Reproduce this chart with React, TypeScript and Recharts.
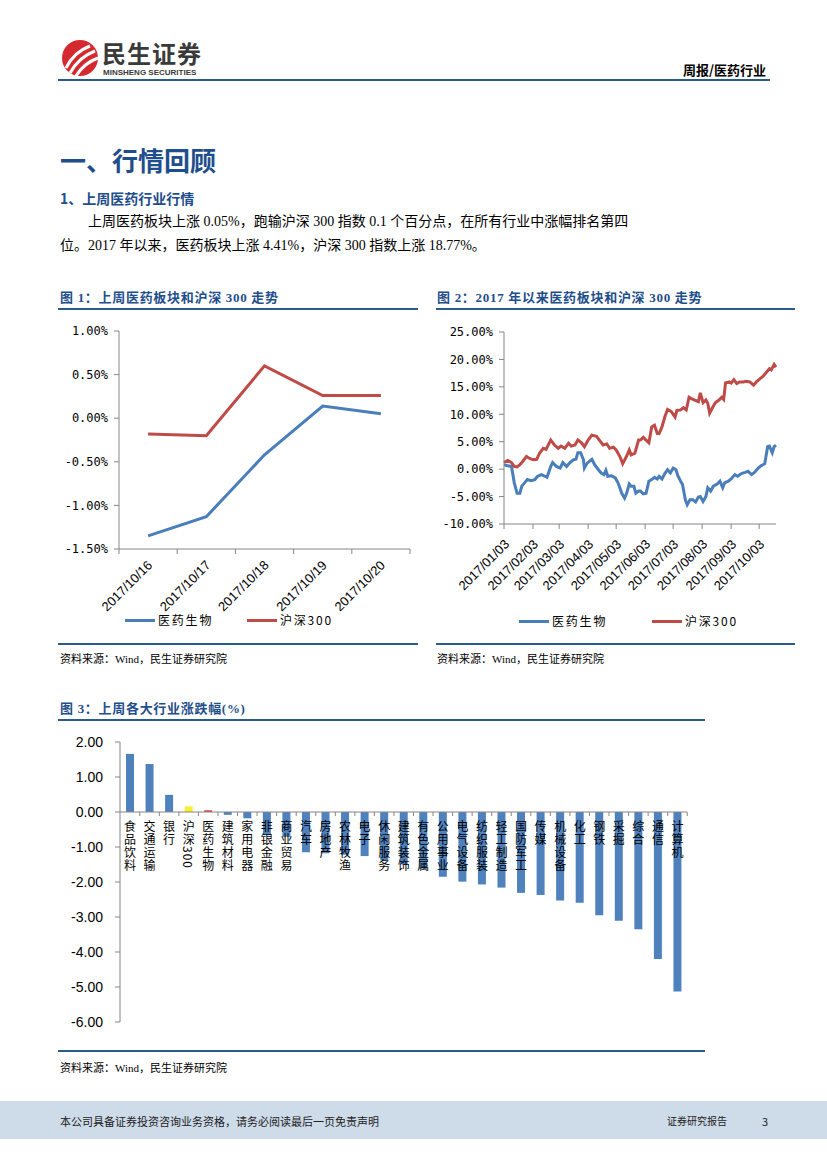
import React from "react";
import {
  LineChart, Line, BarChart, Bar, Cell, XAxis, YAxis, LabelList, ReferenceLine,
} from "recharts";

const BLUE = "#4a7ebb";
const RED = "#be4b48";
const BAR_BLUE = "#4f81bd";
const AXIS = "#868686";
const TITLE = "#1f4e8c";
const RULE = "#2b5b8c";
const CJK = '"Noto Sans CJK SC", sans-serif';
const SERIF = '"Liberation Serif", "Noto Sans CJK SC", serif';
const MONO = '"DejaVu Sans Mono", monospace';
const ARIAL = '"Liberation Sans", Arial, sans-serif';

// 图1 上周医药板块和沪深300走势
const weekDates = ["2017/10/16", "2017/10/17", "2017/10/18", "2017/10/19", "2017/10/20"];
const weekMedicine = [-1.35, -1.13, -0.42, 0.14, 0.05];
const weekHs300 = [-0.18, -0.2, 0.6, 0.26, 0.26];
const weekYTicks = [-1.5, -1, -0.5, 0, 0.5, 1];

// 图2 2017年以来 : [days since 2017/01/03, %]
const ytdMedicine: [number, number][] = [
  [0, 0.8], [4, 0.6], [8, 0.5], [11, -2.5], [14, -4.4], [17, -4.4], [19, -3.1], [22, -2.5],
  [25, -1.9], [29, -2.1], [33, -1.9], [36, -1.3], [40, -1.0], [44, -1.3], [46, -1.5], [50, 0.5],
  [52, 1.2], [56, 0.5], [60, 0.2], [63, 1.2], [67, 0.5], [70, 1.1], [74, 1.7], [77, 1.8],
  [79, 3.0], [82, 3.0], [85, 1.7], [86, 0.2], [89, 1.1], [94, 1.8], [97, 0.8], [101, -0.1],
  [104, -0.7], [107, -1.0], [109, -0.2], [111, -1.3], [115, -1.2], [119, -1.6], [122, -2.5],
  [126, -4.4], [129, -5.3], [131, -4.5], [134, -2.7], [136, -3.1], [139, -3.1], [141, -4.4],
  [144, -4.0], [146, -4.0], [149, -4.5], [152, -4.4], [155, -2.2], [158, -1.9], [161, -1.5],
  [164, -1.8], [166, -1.3], [169, -1.8], [172, -0.8], [175, -0.1], [178, -0.7], [181, 0.2],
  [184, -0.1], [186, -1.2], [189, -2.2], [191, -2.8], [194, -5.6], [196, -6.5], [199, -5.6],
  [202, -5.6], [205, -6.0], [208, -5.1], [210, -5.0], [213, -5.9], [216, -5.0], [218, -3.4],
  [221, -4.0], [224, -3.1], [228, -2.7], [231, -2.2], [234, -3.4], [236, -2.5], [240, -2.2],
  [243, -1.8], [247, -1.0], [250, -1.3], [254, -0.8], [258, -0.6], [261, -0.4], [265, -1.0],
  [268, -0.6], [272, 0.2], [275, 0.6], [279, 1.0], [282, 4.1], [284, 4.2], [287, 3.0],
  [289, 4.1], [291, 4.4],
];
const ytdHs300: [number, number][] = [
  [0, 1.2], [4, 1.6], [8, 1.2], [11, 0.5], [14, 0.4], [17, 0.8], [20, 1.4], [24, 2.3],
  [27, 2.0], [31, 1.7], [35, 1.8], [38, 2.9], [42, 3.8], [45, 3.6], [50, 5.3], [54, 4.4],
  [58, 3.8], [61, 4.2], [65, 3.8], [69, 4.7], [72, 4.2], [76, 4.4], [79, 5.3], [83, 4.8],
  [86, 4.1], [90, 5.3], [94, 6.2], [99, 6.0], [102, 5.3], [106, 4.4], [110, 4.6], [113, 3.8],
  [117, 4.0], [120, 3.5], [124, 2.3], [127, 1.0], [131, 2.3], [134, 3.5], [136, 2.6],
  [140, 2.9], [144, 5.3], [146, 5.3], [149, 5.8], [152, 5.3], [155, 4.8], [158, 7.7],
  [161, 8.0], [164, 6.5], [166, 6.5], [169, 7.7], [172, 9.5], [175, 10.9], [179, 10.5],
  [183, 9.5], [185, 10.7], [189, 10.8], [192, 11.2], [195, 10.8], [198, 13.1], [200, 12.9],
  [204, 12.6], [208, 12.3], [210, 13.9], [213, 12.1], [216, 12.6], [218, 12.0], [220, 10.2],
  [223, 11.2], [226, 12.1], [230, 12.6], [233, 13.1], [235, 12.7], [237, 15.7], [241, 15.9],
  [243, 15.7], [246, 16.3], [249, 15.6], [252, 15.9], [256, 15.9], [259, 16.0], [263, 15.9],
  [267, 15.3], [270, 15.9], [274, 16.5], [277, 16.9], [281, 17.7], [284, 18.3], [286, 18.1],
  [289, 19.1], [291, 18.6],
];
const ytdTickDays = [0, 31, 59, 90, 120, 151, 181, 212, 243, 273];
const ytdTickLabels = [
  "2017/01/03", "2017/02/03", "2017/03/03", "2017/04/03", "2017/05/03",
  "2017/06/03", "2017/07/03", "2017/08/03", "2017/09/03", "2017/10/03",
];
const ytdYTicks = [-10, -5, 0, 5, 10, 15, 20, 25];

// 图3 上周各大行业涨跌幅
const industries = [
  "食品饮料", "交通运输", "银行", "沪深300", "医药生物", "建筑材料", "家用电器", "非银金融",
  "商业贸易", "汽车", "房地产", "农林牧渔", "电子", "休闲服务", "建筑装饰", "有色金属",
  "公用事业", "电气设备", "纺织服装", "轻工制造", "国防军工", "传媒", "机械设备", "化工",
  "钢铁", "采掘", "综合", "通信", "计算机",
];
const industryChange = [
  1.66, 1.37, 0.49, 0.16, 0.05, -0.08, -0.18, -0.66, -0.71, -1.15, -1.18, -1.22, -1.26,
  -1.38, -1.5, -1.62, -1.85, -1.99, -2.07, -2.16, -2.31, -2.37, -2.53, -2.59, -2.95,
  -3.11, -3.35, -4.2, -5.13,
];
const barYTicks = [-6, -5, -4, -3, -2, -1, 0, 1, 2];

const weekData = weekDates.map((date, i) => ({ date, med: weekMedicine[i], hs: weekHs300[i] }));
const ytdMedData = ytdMedicine.map(([day, v]) => ({ day, v }));
const ytdHsData = ytdHs300.map(([day, v]) => ({ day, v }));
const barData = industries.map((name, i) => ({ name, value: industryChange[i] }));

const BAR_W = 640, BAR_YAXIS = 62, BAR_RIGHT = 11;
const BAR_BAND = (BAR_W - BAR_YAXIS - BAR_RIGHT) / industries.length;
const WEEK_W = 360, WEEK_YAXIS = 61, WEEK_RIGHT = 8;
const WEEK_HALF = (WEEK_W - WEEK_YAXIS - WEEK_RIGHT) / weekDates.length / 2;

function SlantTick(props: any) {
  const { x, y, index, visibleTicksCount, label, half, dx, dy } = props;
  const ax = x + dx, ay = y + dy;
  return (
    <g>
      <line x1={x - half} y1={y} x2={x - half} y2={y + 5} stroke={AXIS} />
      {half > 0 && index === visibleTicksCount - 1 && (
        <line x1={x + half} y1={y} x2={x + half} y2={y + 5} stroke={AXIS} />
      )}
      <text x={ax} y={ay} transform={`rotate(-45 ${ax} ${ay})`} textAnchor="end"
        fontSize={13} fontFamily={ARIAL} fill="#000">{label}</text>
    </g>
  );
}

function IndustryLabel(props: any) {
  const vb = props.viewBox || props;
  const { x, y, width, height } = vb;
  const name = props.value;
  const v = industryChange[industries.indexOf(name)];
  const zeroY = v >= 0 ? Math.max(y, y + height) : Math.min(y, y + height);
  const cx = x + width / 2;
  return (
    <g>
      <line x1={cx + BAR_BAND / 2} x2={cx + BAR_BAND / 2} y1={zeroY} y2={zeroY + 4} stroke={AXIS} />
      <text x={cx} y={zeroY + 8} style={{ writingMode: "vertical-rl" }} fontFamily={CJK}
        fontSize={12} letterSpacing={1} fill="#000">{name}</text>
    </g>
  );
}

function LegendItem({ left, top, color, label }: { left: number; top: number; color: string; label: string }) {
  return (
    <div style={{ position: "absolute", left, top, display: "flex", alignItems: "center" }}>
      <div style={{ width: 30, height: 3, background: color }} />
      <span style={{ marginLeft: 3, fontSize: 12, letterSpacing: 1.8, fontFamily: CJK, lineHeight: "14px" }}>{label}</span>
    </div>
  );
}

const abs = (left: number, top: number, extra: React.CSSProperties = {}): React.CSSProperties => ({
  position: "absolute", left, top, whiteSpace: "nowrap", ...extra,
});

export default function App() {
  const yTick = { fontFamily: MONO, fontSize: 12, fill: "#000" };
  const figTitle: React.CSSProperties = { fontSize: 13, fontWeight: 700, color: TITLE, fontFamily: SERIF, lineHeight: "16px", letterSpacing: 0.7 };
  return (
    <div style={{ position: "absolute", left: 0, top: 0, width: 827, height: 1169, background: "#fff", overflow: "hidden", fontFamily: CJK, color: "#000" }}>
      {/* header */}
      <svg style={abs(60, 38)} width={42} height={42}>
        <circle cx={20} cy={20} r={18} fill="#d42a2f" />
        <path d="M6 30 Q14 14 30 8" stroke="#fff" strokeWidth={3} fill="none" />
        <path d="M10 35 Q19 19 35 13" stroke="#fff" strokeWidth={3} fill="none" />
        <path d="M16 38 Q24 25 38 20" stroke="#fff" strokeWidth={3} fill="none" />
      </svg>
      <div style={abs(102, 40, { fontSize: 24, fontWeight: 700, color: "#3a3a3a", lineHeight: "26px", letterSpacing: 1 })}>民生证券</div>
      <div style={abs(103, 68, { fontSize: 8, fontWeight: 700, fontFamily: ARIAL, color: "#3a3a3a", lineHeight: "9px" })}>MINSHENG SECURITIES</div>
      <div style={abs(683, 62, { fontSize: 13, fontWeight: 700, lineHeight: "16px" })}>周报/医药行业</div>
      <div style={abs(58, 79, { width: 712, height: 2, background: RULE })} />

      {/* section text */}
      <div style={abs(60, 145, { fontSize: 26, fontWeight: 700, color: TITLE, lineHeight: "30px" })}>一、行情回顾</div>
      <div style={abs(60, 190, { fontSize: 14, fontWeight: 700, color: TITLE, lineHeight: "16px" })}>1、上周医药行业行情</div>
      <div style={abs(88, 214, { fontSize: 14, fontFamily: SERIF, lineHeight: "16px" })}>
        上周医药板块上涨 0.05%，跑输沪深 300 指数 0.1 个百分点，在所有行业中涨幅排名第四
      </div>
      <div style={abs(60, 238, { fontSize: 14, fontFamily: SERIF, lineHeight: "16px" })}>
        位。2017 年以来，医药板块上涨 4.41%，沪深 300 指数上涨 18.77%。
      </div>

      {/* figure 1 */}
      <div style={abs(60, 290, figTitle)}>图 1：上周医药板块和沪深 300 走势</div>
      <div style={abs(58, 308, { width: 360, height: 1.5, background: RULE })} />
      <div style={abs(58, 315)}>
        <LineChart width={WEEK_W} height={320} data={weekData} margin={{ top: 16, right: WEEK_RIGHT, bottom: 0, left: 0 }}>
          <XAxis dataKey="date" scale="band" height={86} tickSize={0} tickMargin={0} tickLine={false}
            axisLine={{ stroke: AXIS }} interval={0}
            tick={(p: any) => <SlantTick {...p} label={p.payload.value} half={p.payload.offset || WEEK_HALF} dx={5} dy={17} />} />
          <YAxis width={WEEK_YAXIS} domain={[-1.5, 1]} ticks={weekYTicks} tickSize={5} tickMargin={6}
            axisLine={{ stroke: AXIS }} tickLine={{ stroke: AXIS }} tick={yTick}
            tickFormatter={(v: number) => `${v.toFixed(2)}%`} />
          <Line dataKey="med" stroke={BLUE} strokeWidth={3} dot={false} isAnimationActive={false} />
          <Line dataKey="hs" stroke={RED} strokeWidth={3} dot={false} isAnimationActive={false} />
        </LineChart>
      </div>
      <LegendItem left={125} top={613} color={BLUE} label="医药生物" />
      <LegendItem left={247} top={613} color={RED} label="沪深300" />
      <div style={abs(58, 643, { width: 360, height: 1.5, background: RULE })} />
      <div style={abs(60, 652, { fontSize: 11, fontFamily: SERIF, lineHeight: "14px" })}>资料来源：Wind，民生证券研究院</div>

      {/* figure 2 */}
      <div style={abs(437, 290, figTitle)}>图 2：2017 年以来医药板块和沪深 300 走势</div>
      <div style={abs(436, 308, { width: 359, height: 1.5, background: RULE })} />
      <div style={abs(436, 315)}>
        <LineChart width={350} height={320} margin={{ top: 17, right: 10, bottom: 0, left: 0 }}>
          <XAxis dataKey="day" type="number" domain={[0, 291]} ticks={ytdTickDays} interval={0}
            height={111} tickSize={0} tickMargin={0} tickLine={false} axisLine={{ stroke: AXIS }}
            tick={(p: any) => <SlantTick {...p} label={ytdTickLabels[ytdTickDays.indexOf(p.payload.value)]} half={0} dx={6} dy={21} />} />
          <YAxis width={68} domain={[-10, 25]} ticks={ytdYTicks} tickSize={5} tickMargin={6}
            axisLine={{ stroke: AXIS }} tickLine={{ stroke: AXIS }} tick={yTick}
            tickFormatter={(v: number) => `${v.toFixed(2)}%`} />
          <Line data={ytdMedData} dataKey="v" stroke={BLUE} strokeWidth={3} dot={false} isAnimationActive={false} />
          <Line data={ytdHsData} dataKey="v" stroke={RED} strokeWidth={3} dot={false} isAnimationActive={false} />
        </LineChart>
      </div>
      <LegendItem left={519} top={614} color={BLUE} label="医药生物" />
      <LegendItem left={652} top={614} color={RED} label="沪深300" />
      <div style={abs(436, 643, { width: 359, height: 1.5, background: RULE })} />
      <div style={abs(437, 652, { fontSize: 11, fontFamily: SERIF, lineHeight: "14px" })}>资料来源：Wind，民生证券研究院</div>

      {/* figure 3 */}
      <div style={abs(60, 701, figTitle)}>图 3：上周各大行业涨跌幅(%)</div>
      <div style={abs(58, 719, { width: 647, height: 1.5, background: RULE })} />
      <div style={abs(58, 730)}>
        <BarChart width={BAR_W} height={300} data={barData} margin={{ top: 12, right: BAR_RIGHT, bottom: 8, left: 0 }}>
          <XAxis dataKey="name" hide />
          <YAxis width={BAR_YAXIS} domain={[-6, 2]} ticks={barYTicks} tickSize={5} tickMargin={12}
            axisLine={{ stroke: AXIS }} tickLine={{ stroke: AXIS }}
            tick={{ fontFamily: ARIAL, fontSize: 14, fill: "#000" }}
            tickFormatter={(v: number) => v.toFixed(2)} />
          <ReferenceLine y={0} stroke={AXIS} />
          <Bar dataKey="value" barSize={8} isAnimationActive={false}>
            {barData.map((d) => (
              <Cell key={d.name} fill={d.name === "沪深300" ? "#f5f030" : d.name === "医药生物" ? "#e0403c" : BAR_BLUE} />
            ))}
            <LabelList dataKey="name" content={IndustryLabel} />
          </Bar>
        </BarChart>
      </div>
      <div style={abs(58, 1050, { width: 647, height: 1.5, background: RULE })} />
      <div style={abs(60, 1061, { fontSize: 11, fontFamily: SERIF, lineHeight: "14px" })}>资料来源：Wind，民生证券研究院</div>

      {/* footer */}
      <div style={abs(0, 1101, { width: 827, height: 38, background: "#cedbe9" })} />
      <div style={abs(60, 1114, { fontSize: 11, lineHeight: "14px", color: "#222" })}>本公司具备证券投资咨询业务资格，请务必阅读最后一页免责声明</div>
      <div style={abs(667, 1114, { fontSize: 10, lineHeight: "14px", color: "#222" })}>证券研究报告</div>
      <div style={abs(762, 1114, { fontSize: 11, lineHeight: "14px", color: "#222" })}>3</div>
    </div>
  );
}
